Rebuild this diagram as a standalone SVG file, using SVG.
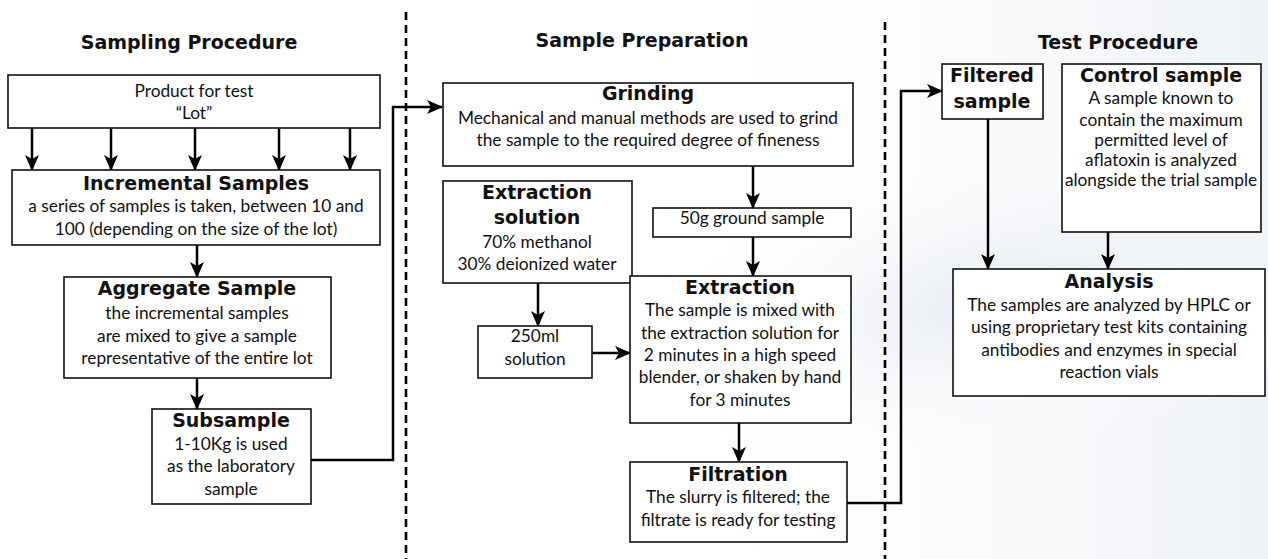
<svg xmlns="http://www.w3.org/2000/svg" width="1268" height="559" viewBox="0 0 1268 559">
<defs>
<style>
.box{fill:#fff;stroke:#111;stroke-width:1.6}
.t{font-family:Lato,"Liberation Sans",sans-serif;font-size:17.3px;fill:#111;text-anchor:middle}
.h{font-family:"DejaVu Sans","Liberation Sans",sans-serif;font-size:19px;font-weight:bold;fill:#111;text-anchor:middle}
.sec{font-family:"DejaVu Sans","Liberation Sans",sans-serif;font-size:19px;font-weight:bold;fill:#111;text-anchor:middle}
.a{fill:none;stroke:#000;stroke-width:2.5;marker-end:url(#arr)}
.dash{fill:none;stroke:#000;stroke-width:2.6;stroke-dasharray:8 5}
</style>
<marker id="arr" markerUnits="userSpaceOnUse" markerWidth="17" markerHeight="14" refX="15" refY="7" orient="auto">
<path d="M0,0 L16,7 L0,14 L4,7 z" fill="#000"/>
</marker>
<radialGradient id="bg" cx="0.5" cy="0.5" r="0.5">
<stop offset="0" stop-color="#e4eaf0" stop-opacity="0.9"/>
<stop offset="1" stop-color="#ffffff" stop-opacity="0"/>
</radialGradient>
<linearGradient id="bg2" x1="0" y1="0" x2="1" y2="0">
<stop offset="0" stop-color="#ffffff" stop-opacity="0"/>
<stop offset="1" stop-color="#eef2f6" stop-opacity="1"/>
</linearGradient>
</defs>
<rect x="0" y="0" width="1268" height="559" fill="#fff"/>
<rect x="600" y="0" width="668" height="559" fill="url(#bg2)"/>
<ellipse cx="1000" cy="300" rx="420" ry="160" fill="url(#bg)" transform="rotate(-10 1000 300)"/>

<g id="dividers">
<line class="dash" x1="406" y1="12" x2="406" y2="559"/>
<line class="dash" x1="885" y1="22" x2="885" y2="559"/>
</g>

<g id="headers">
<text class="sec" x="189" y="49">Sampling Procedure</text>
<text class="sec" x="642" y="47">Sample Preparation</text>
<text class="sec" x="1118" y="49">Test Procedure</text>
</g>

<g id="connectors">
<line class="a" x1="32" y1="128" x2="32" y2="170"/>
<line class="a" x1="111" y1="128" x2="111" y2="170"/>
<line class="a" x1="195" y1="128" x2="195" y2="170"/>
<line class="a" x1="279" y1="128" x2="279" y2="170"/>
<line class="a" x1="350" y1="128" x2="350" y2="170"/>
<line class="a" x1="197" y1="245" x2="197" y2="277"/>
<line class="a" x1="197" y1="378" x2="197" y2="409"/>
<polyline class="a" points="311,460 393,460 393,107 442,107"/>
<line class="a" x1="753" y1="166" x2="753" y2="208"/>
<line class="a" x1="753" y1="237" x2="753" y2="276"/>
<line class="a" x1="538" y1="283" x2="538" y2="326"/>
<line class="a" x1="592" y1="353" x2="630" y2="353"/>
<line class="a" x1="739" y1="423" x2="739" y2="462"/>
<polyline class="a" points="847,503 901,503 901,91 942,91"/>
<line class="a" x1="988" y1="119" x2="988" y2="269"/>
<line class="a" x1="1108" y1="232" x2="1108" y2="269"/>
</g>

<g id="product">
<rect class="box" x="8" y="75" width="372" height="53"/>
<text class="t" x="194" y="97">Product for test</text>
<text class="t" x="194" y="119">“Lot”</text>
</g>

<g id="incremental">
<rect class="box" x="12" y="170" width="368" height="75"/>
<text class="h" x="196" y="190">Incremental Samples</text>
<text class="t" x="196" y="212">a series of samples is taken, between 10 and</text>
<text class="t" x="196" y="235">100 (depending on the size of the lot)</text>
</g>

<g id="aggregate">
<rect class="box" x="64" y="277" width="267" height="101"/>
<text class="h" x="197" y="295">Aggregate Sample</text>
<text class="t" x="197" y="319">the incremental samples</text>
<text class="t" x="197" y="342">are mixed to give a sample</text>
<text class="t" x="197" y="364">representative of the entire lot</text>
</g>

<g id="subsample">
<rect class="box" x="152" y="409" width="159" height="95"/>
<text class="h" x="231" y="427">Subsample</text>
<text class="t" x="231" y="450">1-10Kg is used</text>
<text class="t" x="231" y="472">as the laboratory</text>
<text class="t" x="231" y="495">sample</text>
</g>

<g id="grinding">
<rect class="box" x="443" y="83" width="410" height="83"/>
<text class="h" x="648" y="100">Grinding</text>
<text class="t" x="648" y="124">Mechanical and manual methods are used to grind</text>
<text class="t" x="648" y="146">the sample to the required degree of fineness</text>
</g>

<g id="ground">
<rect class="box" x="653" y="208" width="198" height="29"/>
<text class="t" x="752" y="224">50g ground sample</text>
</g>

<g id="extsolution">
<rect class="box" x="443" y="181" width="189" height="102"/>
<text class="h" x="537" y="199">Extraction</text>
<text class="h" x="537" y="224">solution</text>
<text class="t" x="537" y="248">70% methanol</text>
<text class="t" x="537" y="270">30% deionized water</text>
</g>

<g id="solution250">
<rect class="box" x="478" y="326" width="114" height="52"/>
<text class="t" x="535" y="342">250ml</text>
<text class="t" x="535" y="365">solution</text>
</g>

<g id="extraction">
<rect class="box" x="630" y="276" width="221" height="147"/>
<text class="h" x="740" y="294">Extraction</text>
<text class="t" x="740" y="316">The sample is mixed with</text>
<text class="t" x="740" y="339">the extraction solution for</text>
<text class="t" x="740" y="361">2 minutes in a high speed</text>
<text class="t" x="740" y="383">blender, or shaken by hand</text>
<text class="t" x="740" y="406">for 3 minutes</text>
</g>

<g id="filtration">
<rect class="box" x="630" y="462" width="217" height="80"/>
<text class="h" x="738" y="481">Filtration</text>
<text class="t" x="738" y="503">The slurry is filtered; the</text>
<text class="t" x="738" y="526">filtrate is ready for testing</text>
</g>

<g id="filtered">
<rect class="box" x="942" y="64" width="101" height="55"/>
<text class="h" x="992" y="82">Filtered</text>
<text class="h" x="992" y="108">sample</text>
</g>

<g id="control">
<rect class="box" x="1062" y="64" width="199" height="168"/>
<text class="h" x="1161" y="82">Control sample</text>
<text class="t" x="1161" y="104">A sample known to</text>
<text class="t" x="1161" y="126">contain the maximum</text>
<text class="t" x="1161" y="146">permitted level of</text>
<text class="t" x="1161" y="166">aflatoxin is analyzed</text>
<text class="t" x="1161" y="186">alongside the trial sample</text>
</g>

<g id="analysis">
<rect class="box" x="953" y="269" width="312" height="127"/>
<text class="h" x="1109" y="288">Analysis</text>
<text class="t" x="1109" y="311">The samples are analyzed by HPLC or</text>
<text class="t" x="1109" y="333">using proprietary test kits containing</text>
<text class="t" x="1109" y="356">antibodies and enzymes in special</text>
<text class="t" x="1109" y="378">reaction vials</text>
</g>
</svg>
